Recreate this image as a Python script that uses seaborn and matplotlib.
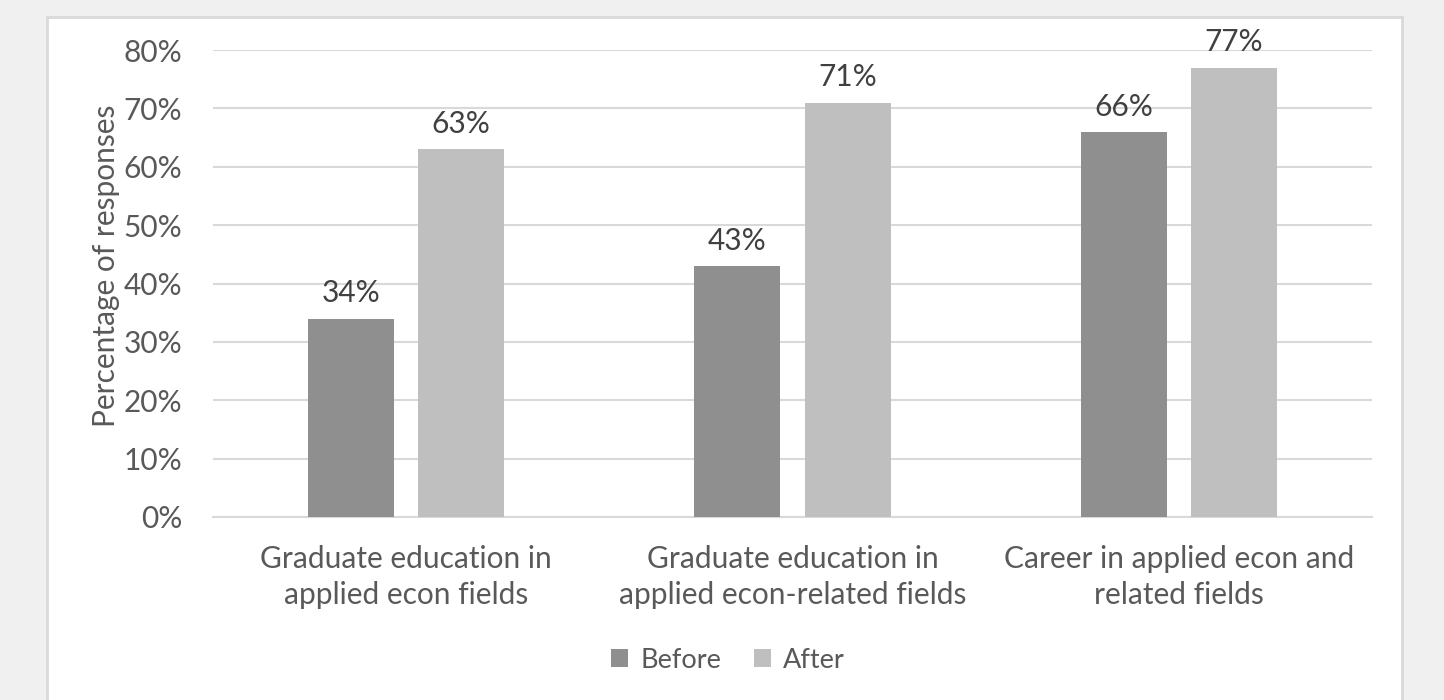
import matplotlib
matplotlib.use("Agg")
import matplotlib.pyplot as plt
from matplotlib.patches import Rectangle, Patch
import seaborn as sns
import pandas as pd

categories = ["Graduate education in\napplied econ fields",
              "Graduate education in\napplied econ-related fields",
              "Career in applied econ and\nrelated fields"]
before = [0.34, 0.43, 0.66]
after = [0.63, 0.71, 0.77]
series = ["Before", "After"]
colors = ["#8f8f8f", "#bfbfbf"]

df = pd.DataFrame({
    "category": categories * 2,
    "value": before + after,
    "series": ["Before"] * 3 + ["After"] * 3,
})

sns.set_theme(style="white")
plt.rcParams['font.family'] = ['Lato', 'DejaVu Sans']
TXT = "#595959"
FS = 21.5

fig = plt.figure(figsize=(14.44, 7.0), dpi=100, facecolor="#f0f0f0")
# white chart panel
fig.patches.append(Rectangle((47 / 1444, -0.01), (1402 - 47) / 1444, (700 - 17) / 700 + 0.01,
                             transform=fig.transFigure, facecolor="white",
                             edgecolor="#d9d9d9", linewidth=2, zorder=-5))

ax = fig.add_axes([213 / 1444, (700 - 517) / 700, (1372 - 213) / 1444, (517 - 50) / 700])
ax.set_facecolor("none")
sns.barplot(data=df, x="category", y="value", hue="series", hue_order=series,
            palette=colors, width=0.57, gap=0.218, ax=ax, legend=False,
            saturation=1, edgecolor="none", zorder=3)

ax.set_ylim(0, 0.8)
ax.set_xlim(-0.5, 2.5)
ax.set_yticks([i / 10 for i in range(9)])
ax.set_yticklabels([f"{i * 10}%" for i in range(9)], fontsize=FS, color=TXT)
ax.tick_params(axis="y", length=0, pad=22)
ax.tick_params(axis="x", length=0, pad=20, labelsize=FS, labelcolor=TXT)
for lbl in ax.get_xticklabels():
    lbl.set_linespacing(1.35)
ax.grid(axis="y", color="#d9d9d9", linewidth=1.5, zorder=0)
for s in ["top", "right", "left"]:
    ax.spines[s].set_visible(False)
ax.spines["bottom"].set_color("#d9d9d9")
ax.spines["bottom"].set_linewidth(1.5)
ax.set_xlabel("")
ax.set_ylabel("Percentage of responses", fontsize=FS, color=TXT)
ax.yaxis.set_label_coords(-0.080, 0.537)

for cont in ax.containers:
    ax.bar_label(cont, labels=[f"{v * 100:.0f}%" for v in cont.datavalues],
                 padding=8, fontsize=FS, color="#404040")

handles = [Patch(facecolor=c, edgecolor="none", label=s) for s, c in zip(series, colors)]
fig.legend(handles=handles, loc="center", bbox_to_anchor=(728 / 1444, 1 - 660 / 700),
           ncol=2, frameon=False, fontsize=19.5, labelcolor=TXT,
           handlelength=0.62, handleheight=0.62, handletextpad=0.45, columnspacing=1.2)

fig.savefig("out.png", dpi=100, facecolor=fig.get_facecolor())
